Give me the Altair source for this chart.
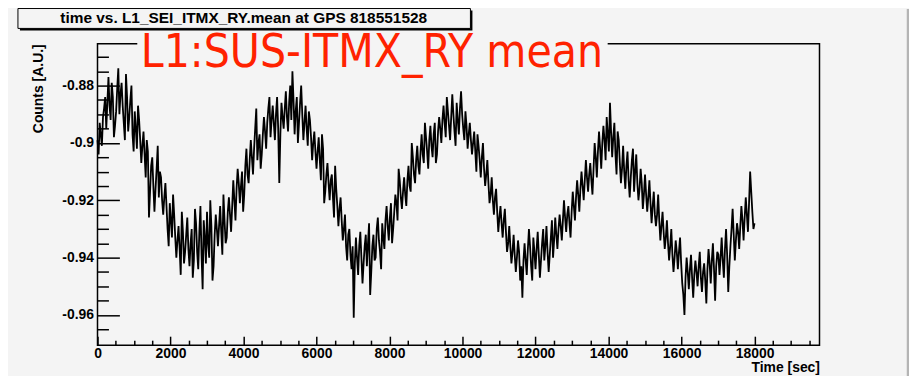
import altair as alt
import pandas as pd

# ---- data (one sample every 30 s) ----
time_sec = list(range(0, 18001, 30))
counts = [
    -0.899, -0.904, -0.893, -0.897, -0.901, -0.891, -0.888, -0.884, -0.895, -0.886,
    -0.877, -0.887, -0.892, -0.879, -0.884, -0.898, -0.894, -0.889, -0.881, -0.874,
    -0.890, -0.883, -0.879, -0.887, -0.893, -0.899, -0.876, -0.884, -0.896, -0.891,
    -0.885, -0.880, -0.897, -0.903, -0.889, -0.895, -0.902, -0.887, -0.892, -0.899,
    -0.907, -0.901, -0.896, -0.904, -0.912, -0.899, -0.903, -0.926, -0.917, -0.908,
    -0.905, -0.915, -0.924, -0.916, -0.909, -0.901, -0.919, -0.910, -0.912, -0.920,
    -0.925, -0.919, -0.914, -0.922, -0.930, -0.936, -0.921, -0.927, -0.933, -0.918,
    -0.925, -0.933, -0.940, -0.934, -0.929, -0.937, -0.946, -0.924, -0.931, -0.942,
    -0.938, -0.932, -0.926, -0.937, -0.943, -0.935, -0.930, -0.947, -0.941, -0.923,
    -0.928, -0.938, -0.944, -0.931, -0.922, -0.939, -0.951, -0.927, -0.933, -0.942,
    -0.924, -0.935, -0.940, -0.920, -0.929, -0.948, -0.943, -0.932, -0.925, -0.930,
    -0.936, -0.929, -0.922, -0.931, -0.939, -0.918, -0.927, -0.935, -0.933, -0.924,
    -0.919, -0.925, -0.931, -0.922, -0.913, -0.920, -0.927, -0.916, -0.909, -0.914,
    -0.921, -0.915, -0.910, -0.924, -0.918, -0.908, -0.902, -0.911, -0.914, -0.906,
    -0.899, -0.905, -0.911, -0.902, -0.895, -0.888, -0.906, -0.900, -0.897, -0.909,
    -0.904, -0.897, -0.891, -0.896, -0.902, -0.893, -0.888, -0.884, -0.898, -0.892,
    -0.887, -0.893, -0.899, -0.890, -0.884, -0.895, -0.914, -0.897, -0.886, -0.891,
    -0.895, -0.888, -0.882, -0.891, -0.896, -0.886, -0.880, -0.892, -0.875, -0.885,
    -0.897, -0.889, -0.884, -0.900, -0.893, -0.886, -0.880, -0.890, -0.899, -0.893,
    -0.887, -0.895, -0.901, -0.889, -0.892, -0.898, -0.906, -0.900, -0.896, -0.903,
    -0.909, -0.903, -0.898, -0.906, -0.913, -0.897, -0.902, -0.921, -0.917, -0.911,
    -0.907, -0.914, -0.920, -0.913, -0.911, -0.919, -0.926, -0.908, -0.916, -0.922,
    -0.929, -0.923, -0.919, -0.927, -0.934, -0.930, -0.925, -0.936, -0.941, -0.932,
    -0.930, -0.939, -0.944, -0.936, -0.961, -0.942, -0.933, -0.940, -0.946, -0.936,
    -0.931, -0.940, -0.949, -0.942, -0.936, -0.932, -0.943, -0.935, -0.928, -0.953,
    -0.945, -0.936, -0.932, -0.941, -0.940, -0.930, -0.926, -0.934, -0.938, -0.944,
    -0.928, -0.933, -0.937, -0.927, -0.922, -0.929, -0.934, -0.926, -0.921, -0.935,
    -0.930, -0.924, -0.918, -0.921, -0.927, -0.909, -0.913, -0.919, -0.923, -0.917,
    -0.912, -0.918, -0.922, -0.913, -0.908, -0.915, -0.917, -0.900, -0.905, -0.911,
    -0.914, -0.906, -0.901, -0.908, -0.911, -0.903, -0.897, -0.904, -0.907, -0.893,
    -0.898, -0.903, -0.909, -0.899, -0.894, -0.901, -0.905, -0.897, -0.893, -0.907,
    -0.904, -0.896, -0.891, -0.895, -0.900, -0.892, -0.887, -0.893, -0.898, -0.884,
    -0.889, -0.894, -0.899, -0.891, -0.883, -0.890, -0.896, -0.901, -0.886, -0.892,
    -0.897, -0.888, -0.882, -0.890, -0.895, -0.899, -0.889, -0.894, -0.902, -0.897,
    -0.893, -0.899, -0.904, -0.900, -0.896, -0.903, -0.910, -0.897, -0.901, -0.906,
    -0.912, -0.905, -0.900, -0.909, -0.915, -0.911, -0.906, -0.914, -0.921, -0.918,
    -0.912, -0.920, -0.925, -0.919, -0.916, -0.924, -0.931, -0.926, -0.922, -0.928,
    -0.933, -0.927, -0.923, -0.931, -0.938, -0.935, -0.929, -0.936, -0.942, -0.938,
    -0.932, -0.939, -0.945, -0.940, -0.934, -0.938, -0.948, -0.943, -0.954, -0.941,
    -0.935, -0.941, -0.946, -0.937, -0.930, -0.936, -0.943, -0.948, -0.933, -0.938,
    -0.944, -0.937, -0.931, -0.939, -0.947, -0.941, -0.935, -0.930, -0.941, -0.936,
    -0.929, -0.938, -0.945, -0.939, -0.933, -0.927, -0.940, -0.934, -0.926, -0.932,
    -0.937, -0.930, -0.925, -0.929, -0.934, -0.927, -0.920, -0.926, -0.931, -0.925,
    -0.922, -0.928, -0.933, -0.924, -0.917, -0.922, -0.927, -0.919, -0.913, -0.918,
    -0.924, -0.916, -0.910, -0.915, -0.920, -0.913, -0.906, -0.912, -0.917, -0.911,
    -0.907, -0.913, -0.918, -0.909, -0.900, -0.905, -0.912, -0.903, -0.896, -0.902,
    -0.909, -0.900, -0.894, -0.899, -0.906, -0.891, -0.897, -0.903, -0.886, -0.896,
    -0.905, -0.898, -0.893, -0.904, -0.911, -0.896, -0.899, -0.907, -0.914, -0.909,
    -0.901, -0.910, -0.916, -0.908, -0.903, -0.913, -0.919, -0.912, -0.906, -0.902,
    -0.917, -0.910, -0.904, -0.914, -0.920, -0.916, -0.909, -0.914, -0.923, -0.918,
    -0.911, -0.918, -0.924, -0.919, -0.913, -0.921, -0.928, -0.922, -0.917, -0.925,
    -0.929, -0.925, -0.918, -0.927, -0.934, -0.929, -0.924, -0.931, -0.937, -0.933,
    -0.927, -0.935, -0.941, -0.936, -0.930, -0.939, -0.945, -0.940, -0.934, -0.938,
    -0.944, -0.938, -0.933, -0.942, -0.949, -0.953, -0.960, -0.947, -0.940, -0.945,
    -0.951, -0.944, -0.939, -0.947, -0.954, -0.946, -0.941, -0.945, -0.950, -0.943,
    -0.938, -0.947, -0.952, -0.945, -0.942, -0.948, -0.956, -0.944, -0.937, -0.942,
    -0.949, -0.941, -0.935, -0.944, -0.955, -0.943, -0.938, -0.939, -0.946, -0.940,
    -0.933, -0.941, -0.947, -0.937, -0.930, -0.939, -0.952, -0.943, -0.936, -0.930,
    -0.923, -0.932, -0.941, -0.934, -0.928, -0.931, -0.937, -0.929, -0.922, -0.927,
    -0.934, -0.926, -0.919, -0.925, -0.931, -0.921, -0.910, -0.917, -0.924, -0.930,
    -0.928,
]

title_text = "time vs. L1_SEI_ITMX_RY.mean at GPS 818551528"
channel_label = "L1:SUS-ITMX_RY mean"
x_title = "Time [sec]"
y_title = "Counts [A.U.]"

x_major = [0, 2000, 4000, 6000, 8000, 10000, 12000, 14000, 16000, 18000]
x_minor = [500, 1000, 1500, 2500, 3000, 3500, 4500, 5000, 5500, 6500, 7000, 7500,
           8500, 9000, 9500, 10500, 11000, 11500, 12500, 13000, 13500, 14500, 15000,
           15500, 16500, 17000, 17500, 18500, 19000, 19500]
y_major = [-0.96, -0.94, -0.92, -0.90, -0.88]
y_minor = [-0.965, -0.955, -0.95, -0.945, -0.935, -0.93, -0.925, -0.915, -0.91,
           -0.905, -0.895, -0.89, -0.885, -0.875, -0.87]

x_domain = [0, 19780]
y_domain = [-0.97052, -0.86543]

BG = "#f4f4f4"
FONT = "Liberation Sans"
W, H = 726, 303

df = pd.DataFrame({"t": time_sec, "v": counts})
one = pd.DataFrame({"k": [0]})

xs = alt.Scale(domain=x_domain, nice=False, zero=False)
ys = alt.Scale(domain=y_domain, nice=False, zero=False)

base = alt.Chart(df)

line = base.mark_line(color="black", strokeWidth=1.8).encode(
    x=alt.X("t:Q", scale=xs, axis=alt.Axis(
        orient="bottom", values=x_major, format="d", tickSize=0, domain=False, grid=False,
        labelFont=FONT, labelFontSize=14, labelFontWeight="bold", labelColor="black",
        labelPadding=1, labelFlush=False,
        title=x_title, titleFont=FONT, titleFontSize=14, titleFontWeight="bold",
        titleColor="black", titleX=W, titleY=26, titleAlign="right", titleAnchor="end",
        titleBaseline="alphabetic")),
    y=alt.Y("v:Q", scale=ys, axis=alt.Axis(
        orient="left", values=y_major, labelExpr="'-' + format(-datum.value, '.2~f')",
        tickSize=0, domain=False, grid=False,
        labelFont=FONT, labelFontSize=14, labelFontWeight="bold", labelColor="black",
        labelPadding=4, labelFlush=False,
        title=y_title, titleFont=FONT, titleFontSize=14, titleFontWeight="bold",
        titleColor="black", titleAngle=-90, titleX=-55, titleY=0, titleAlign="right",
        titleAnchor="end", titleBaseline="alphabetic")),
)

major_ticks = base.mark_line(opacity=0).encode(
    x=alt.X("t:Q", scale=xs, axis=alt.Axis(
        orient="bottom", values=x_major, labels=False, domain=False, grid=False,
        tickSize=9, offset=-9, tickColor="black", tickWidth=1.5, title=None)),
    y=alt.Y("v:Q", scale=ys, axis=alt.Axis(
        orient="left", values=y_major, labels=False, domain=False, grid=False,
        tickSize=22, offset=-22, tickColor="black", tickWidth=1.5, title=None)),
)

minor_ticks = base.mark_line(opacity=0).encode(
    x=alt.X("t:Q", scale=xs, axis=alt.Axis(
        orient="bottom", values=x_minor, labels=False, domain=False, grid=False,
        tickSize=5, offset=-5, tickColor="black", tickWidth=1.5, title=None)),
    y=alt.Y("v:Q", scale=ys, axis=alt.Axis(
        orient="left", values=y_minor, labels=False, domain=False, grid=False,
        tickSize=11, offset=-11, tickColor="black", tickWidth=1.5, title=None)),
)

box_shadow = alt.Chart(one).mark_rect(color="black").encode(
    x=alt.value(-78), x2=alt.value(377), y=alt.value(-33.5), y2=alt.value(-13.5))
box = alt.Chart(one).mark_rect(fill=BG, stroke="black", strokeWidth=1).encode(
    x=alt.value(-80), x2=alt.value(375), y=alt.value(-35.5), y2=alt.value(-15.5))
box_text = alt.Chart(pd.DataFrame({"s": [title_text]})).mark_text(
    font=FONT, fontSize=15.5, fontWeight="bold", color="black",
    align="center", baseline="middle").encode(
    text="s:N", x=alt.value(147), y=alt.value(-25.5))

pave = alt.Chart(one).mark_rect(fill=BG).encode(
    x=alt.value(40), x2=alt.value(513), y=alt.value(-13), y2=alt.value(25))
red_text = alt.Chart(pd.DataFrame({"s": [channel_label]})).mark_text(
    font="DejaVu Sans Condensed, DejaVu Sans", fontSize=46, color="#ff2200",
    align="left", baseline="alphabetic").encode(
    text="s:N", x=alt.value(43.5), y=alt.value(23.7))

bevel = alt.Chart(one).mark_rule(color="#b4b4b4", strokeWidth=2.5).encode(
    x=alt.value(815), y=alt.value(-35), y2=alt.value(335))

chart = alt.layer(
    box_shadow, box, box_text, pave, major_ticks, minor_ticks, line, red_text, bevel
).resolve_axis(x="independent", y="independent").properties(
    width=W, height=H,
    autosize=alt.AutoSizeParams(type="none"),
    padding={"left": 90, "top": 35, "right": 90, "bottom": 30},
    background=BG,
).configure_view(stroke="black", strokeWidth=1.5, fill=BG)

chart.save("out.html", embed_options={"renderer": "svg", "actions": False})
